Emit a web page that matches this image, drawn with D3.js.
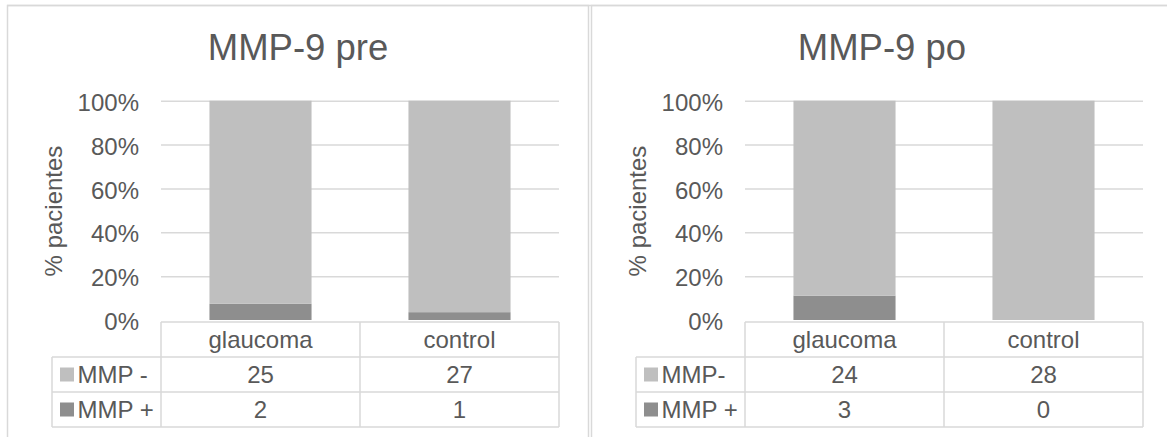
<!DOCTYPE html>
<html>
<head>
<meta charset="utf-8">
<script src="https://cdn.jsdelivr.net/npm/d3@7"></script>
<style>
  html, body { margin: 0; padding: 0; background: #ffffff; }
  svg { display: block; font-family: "Liberation Sans", Arial, sans-serif; }
</style>
</head>
<body>
<svg id="chart" width="1167" height="437"></svg>
<script>
// Data: counts of patients by MMP-9 result, before (pre) and after (po)
const categories = ["glaucoma", "control"];
const titles = ["MMP-9 pre", "MMP-9 po"];
const negativeLabels = ["MMP -", "MMP-"];
const positiveLabel = "MMP +";
const preNegative = [25, 27];
const prePositive = [2, 1];
const postNegative = [24, 28];
const postPositive = [3, 0];
const yTicks = [0, 0.2, 0.4, 0.6, 0.8, 1];

const colors = { neg: "#bfbfbf", pos: "#8e8e8e" };
const textColor = "#595959";
const lineColor = "#d9d9d9";

const svg = d3.select("#chart");

const panels = [
  { left: 7, title: titles[0], negLabel: negativeLabels[0], neg: preNegative, pos: prePositive },
  { left: 591, title: titles[1], negLabel: negativeLabels[1], neg: postNegative, pos: postPositive }
];

// Shared top rule across both panels
svg.append("line")
  .attr("x1", 7).attr("x2", 1167)
  .attr("y1", 5.5).attr("y2", 5.5)
  .attr("stroke", lineColor).attr("stroke-width", 1.5);

panels.forEach((p, i) => {
  const g = svg.append("g").attr("transform", `translate(${p.left},0)`);

  // panel frame
  g.append("rect")
    .attr("x", 0.5).attr("y", 5.5)
    .attr("width", 581).attr("height", 460)
    .attr("fill", "none")
    .attr("stroke", lineColor).attr("stroke-width", 1.5);

  const plotLeft = 154, plotRight = 552;
  const tableLeft = 45;
  const rowTop = 322, rowH = 35;

  const x = d3.scaleBand().domain(categories).range([plotLeft, plotRight]).padding(0);
  const barW = x.bandwidth() * 0.513;
  const y = d3.scaleLinear().domain([0, 1]).range([320, 100.7]);

  // title
  g.append("text")
    .attr("x", 291).attr("y", 59.5)
    .attr("text-anchor", "middle")
    .attr("font-size", 36.5)
    .attr("fill", textColor)
    .text(p.title);

  // y axis with gridlines
  const yAxis = d3.axisLeft(y)
    .tickValues(yTicks)
    .tickSize(-(plotRight - plotLeft))
    .tickPadding(22)
    .tickFormat(d3.format(".0%"));
  const ag = g.append("g").attr("transform", `translate(${plotLeft},0)`).call(yAxis);
  ag.select(".domain").remove();
  ag.selectAll(".tick line")
    .attr("stroke", lineColor).attr("stroke-width", 1.5)
    .filter(d => d === 0).remove();
  ag.selectAll(".tick text")
    .attr("fill", textColor)
    .attr("font-size", 24)
    .attr("font-family", "'Liberation Sans', Arial, sans-serif")
    .attr("dy", "0.4em");

  // y axis title
  g.append("text")
    .attr("transform", `translate(55,211) rotate(-90)`)
    .attr("text-anchor", "middle")
    .attr("font-size", 24)
    .attr("fill", textColor)
    .text("% pacientes");

  // stacked 100% bars
  const rows = categories.map((c, k) => ({ cat: c, pos: p.pos[k], neg: p.neg[k] }));
  const stack = d3.stack().keys(["pos", "neg"]).offset(d3.stackOffsetExpand);
  const series = stack(rows);
  g.append("g").selectAll("g")
    .data(series)
    .join("g")
      .attr("fill", s => colors[s.key])
    .selectAll("rect")
    .data(s => s)
    .join("rect")
      .attr("x", d => x(d.data.cat) + (x.bandwidth() - barW) / 2)
      .attr("width", barW)
      .attr("y", d => y(d[1]))
      .attr("height", d => Math.max(0, y(d[0]) - y(d[1])));

  // data table
  const tg = g.append("g")
    .attr("stroke", lineColor).attr("stroke-width", 1.5).attr("fill", "none");
  // horizontal rules
  tg.append("line").attr("x1", plotLeft).attr("x2", plotRight).attr("y1", rowTop).attr("y2", rowTop);
  [1, 2, 3].forEach(r => {
    tg.append("line").attr("x1", tableLeft).attr("x2", plotRight)
      .attr("y1", rowTop + r * rowH).attr("y2", rowTop + r * rowH);
  });
  // vertical rules
  tg.append("line").attr("x1", tableLeft).attr("x2", tableLeft)
    .attr("y1", rowTop + rowH).attr("y2", rowTop + 3 * rowH);
  [plotLeft, ...categories.map(c => x(c) + x.bandwidth())].forEach(xv => {
    tg.append("line").attr("x1", xv).attr("x2", xv)
      .attr("y1", rowTop).attr("y2", rowTop + 3 * rowH);
  });

  const cellText = (tx, ty, str, anchor) => g.append("text")
    .attr("x", tx).attr("y", ty)
    .attr("text-anchor", anchor)
    .attr("font-size", 24)
    .attr("fill", textColor)
    .text(str);

  // header row: categories
  categories.forEach(c => cellText(x(c) + x.bandwidth() / 2, rowTop + rowH / 2 + 8.5, c, "middle"));

  // series rows with legend keys
  const tableRows = [
    { label: p.negLabel, key: "neg", values: p.neg },
    { label: positiveLabel, key: "pos", values: p.pos }
  ];
  tableRows.forEach((row, r) => {
    const cy = rowTop + (r + 1) * rowH + rowH / 2;
    g.append("rect")
      .attr("x", tableLeft + 8).attr("y", cy - 7)
      .attr("width", 14).attr("height", 14)
      .attr("fill", colors[row.key]);
    cellText(tableLeft + 25.5, cy + 8.5, row.label, "start");
    categories.forEach((c, k) => cellText(x(c) + x.bandwidth() / 2, cy + 8.5, String(row.values[k]), "middle"));
  });
});
</script>
</body>
</html>
